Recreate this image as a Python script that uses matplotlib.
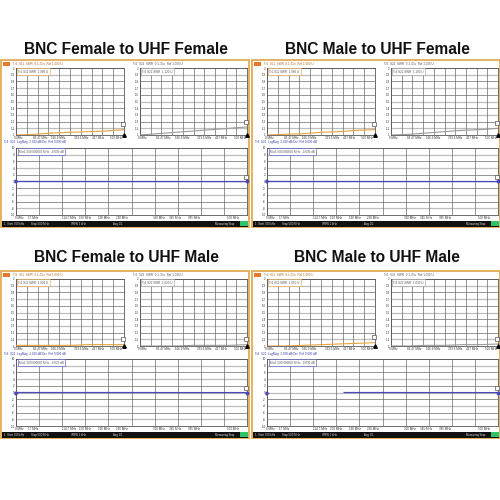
import numpy as np
import matplotlib.pyplot as plt
from matplotlib.patches import Rectangle

plt.rcParams['font.family'] = ['Liberation Sans', 'DejaVu Sans']

titles = ["BNC Female to UHF Female", "BNC Male to UHF Female",
          "BNC Female to UHF Male", "BNC Male to UHF Male"]

# sweep points (MHz)
freq_mhz = [0.3, 83.5, 166.9, 250.2, 333.6, 417.0, 500.0]

# S11 SWR, left small chart of each screen
s11_ff = [1.00, 1.01, 1.03, 1.04, 1.05, 1.06, 1.08]
s11_mf = [1.00, 1.01, 1.02, 1.04, 1.05, 1.07, 1.08]
s11_fm = [1.01, 1.01, 1.01, 1.01, 1.02, 1.02, 1.02]
s11_mm = [1.00, 1.00, 1.01, 1.02, 1.03, 1.04, 1.05]

# S22 SWR, right small chart
s22_ff = [1.00, 1.02, 1.04, 1.06, 1.08, 1.10, 1.12]
s22_mf = [1.00, 1.01, 1.03, 1.05, 1.07, 1.08, 1.10]
s22_fm = [1.00, 1.00, 1.00, 1.01, 1.01, 1.01, 1.02]
s22_mm = [1.00, 1.00, 1.01, 1.01, 1.02, 1.02, 1.03]

# S21 log mag (dB), wide chart
s21_ff = [0.0, -0.01, -0.01, -0.02, -0.02, -0.03, -0.03]
s21_mf = [0.0, -0.01, -0.01, -0.02, -0.02, -0.02, -0.03]
s21_fm = [0.0, -0.01, -0.01, -0.01, -0.02, -0.02, -0.02]
s21_mm = [np.nan, np.nan, -0.01, -0.01, -0.02, -0.02, -0.03]

swr_ticks = [1.0, 1.1, 1.2, 1.3, 1.4, 1.5, 1.6, 1.7, 1.8, 1.9, 2.0]
swr_labels = ['1', '1.1', '1.2', '1.3', '1.4', '1.5', '1.6', '1.7', '1.8', '1.9', '2']
db_ticks = [-10, -8, -6, -4, -2, 0, 2, 4, 6, 8, 10]
small_xt = [10, 110, 195, 300, 380, 465]
small_xl = ['0 MHz', '83.47 MHz', '166.9 MHz', '333.6 MHz', '417 MHz', '500 MHz']
wide_xt = [8, 36, 115, 150, 190, 230, 310, 345, 385, 470]
wide_xl = ['0 MHz', '17 MHz', '114.7 MHz', '150 MHz', '190 MHz', '230 MHz',
           '310 MHz', '345 MHz', '385 MHz', '500 MHz']

ORANGE = '#e8a23c'
GRAY = '#9a9a9a'
BLUE = '#4a48b8'
W = 500.0

fig = plt.figure(figsize=(5, 5), dpi=100)
bg = fig.add_axes([0, 0, 1, 1])
bg.set_xlim(0, 500)
bg.set_ylim(500, 0)
bg.axis('off')


def px_axes(left, top, right, bottom):
    return fig.add_axes([left / W, 1 - bottom / W, (right - left) / W, (bottom - top) / W])


def grid_chart(ax, yticks, ylabels, xt, xl):
    ax.set_xlim(0, 500)
    ax.set_ylim(yticks[0], yticks[-1])
    ax.set_yticks(yticks)
    ax.set_yticklabels(ylabels)
    ax.set_xticks(xt)
    ax.set_xticklabels(xl)
    ax.tick_params(length=0, labelsize=2.2, pad=1.0, colors='#333333')
    for i, yv in enumerate(yticks):
        ax.axhline(yv, color='#6a6a6a' if i % 2 == 0 else '#bdbdbd',
                   lw=0.5 if i % 2 == 0 else 0.9, zorder=1)
    for xv in range(0, 501, 50):
        ax.axvline(xv, color='#6a6a6a', lw=0.5, zorder=1)
    for s in ax.spines.values():
        s.set_color('#555555')
        s.set_linewidth(0.6)


def swr_chart(left, top, right, bottom, vals, color, tag):
    ax = px_axes(left, top, right, bottom)
    grid_chart(ax, swr_ticks, swr_labels, small_xt, small_xl)
    ax.plot(freq_mhz, vals, color=color, lw=0.8, zorder=3)
    ax.text(0.02, 0.975, '%s SWR  %.3f U' % (tag, vals[-1]), transform=ax.transAxes,
            fontsize=2.2, va='top', ha='left', color='#555555',
            bbox=dict(boxstyle='square,pad=0.4', fc='white', ec=color, lw=0.4), zorder=4)
    ax.plot([freq_mhz[-1] - 5], [vals[-1] + 0.08], marker='s', ms=3.2, mfc='white',
            mec='#555555', mew=0.5, zorder=5, clip_on=False)
    ax.plot([500], [1.0], marker='^', ms=2.5, color='black', zorder=5, clip_on=False)
    return ax


def loss_chart(left, top, right, bottom, vals):
    ax = px_axes(left, top, right, bottom)
    grid_chart(ax, db_ticks, [str(v) for v in db_ticks], wide_xt, wide_xl)
    ax.plot(freq_mhz, vals, color=BLUE, lw=0.9, zorder=3)
    ax.text(0.012, 0.975, 'Mkr1 500.000000 MHz  %.3f dB' % vals[-1], transform=ax.transAxes,
            fontsize=2.2, va='top', ha='left', color='#555555',
            bbox=dict(boxstyle='square,pad=0.4', fc='white', ec=BLUE, lw=0.4), zorder=4)
    ax.plot([freq_mhz[-1] - 3], [1.2], marker='s', ms=3.2, mfc='white',
            mec='#555555', mew=0.5, zorder=5, clip_on=False)
    ax.plot([500], [0], marker='o', ms=1.8, color=BLUE, zorder=5, clip_on=False)
    ax.plot([0], [0], marker='>', ms=2, color=BLUE, zorder=5, clip_on=False)
    return ax


def draw_panel(x0, y0, title, ty, s11, s22, s21):
    bg.text(x0 + 125, ty, title, ha='center', va='center', fontsize=11.2,
            fontweight='bold', color='#111111')
    bg.add_patch(Rectangle((x0, y0), 248, 167, facecolor='white', edgecolor='#e0a448', lw=1.2))
    # header lines
    bg.add_patch(Rectangle((x0 + 2, y0 + 1.5), 7, 4, facecolor='#e8782a', edgecolor='none'))
    bg.text(x0 + 12, y0 + 3.6, 'Tr1  S11  SWR  0.1 /Div  Ref 1.000 U', fontsize=2.2,
            color='#b06a20', va='center')
    bg.text(x0 + 132, y0 + 3.6, 'Tr2  S22  SWR  0.1 /Div  Ref 1.000 U', fontsize=2.2,
            color='#555555', va='center')
    bg.text(x0 + 3, y0 + 82.5, 'Tr3  S21  LogMag  2.000 dB/Div  Ref 0.000 dB', fontsize=2.2,
            color='#3a38a8', va='center')
    swr_chart(x0 + 15, y0 + 8, x0 + 123, y0 + 75, s11, ORANGE, 'Tr1 S11')
    swr_chart(x0 + 139, y0 + 8, x0 + 246, y0 + 75, s22, GRAY, 'Tr2 S22')
    loss_chart(x0 + 15, y0 + 88, x0 + 246, y0 + 155, s21)
    # status bar
    bg.add_patch(Rectangle((x0 + 0.6, y0 + 160.5), 246.8, 6.0, facecolor='#111111', edgecolor='none'))
    bg.add_patch(Rectangle((x0 + 239, y0 + 161.3), 8, 4.4, facecolor='#2fc46a', edgecolor='none'))
    for dx, s in [(3, '1  Start 300 kHz'), (30, 'Stop 500 MHz'),
                  (70, 'IFBW 1 kHz'), (112, 'Avg 1/1'), (214, 'Measuring Stop')]:
        bg.text(x0 + dx, y0 + 163.6, s, fontsize=2.0, color='#dddddd', va='center')


draw_panel(1, 60, titles[0], 49, s11_ff, s22_ff, s21_ff)
draw_panel(252, 60, titles[1], 49, s11_mf, s22_mf, s21_mf)
draw_panel(1, 271, titles[2], 257, s11_fm, s22_fm, s21_fm)
draw_panel(252, 271, titles[3], 257, s11_mm, s22_mm, s21_mm)

fig.savefig('out.png', dpi=100)
